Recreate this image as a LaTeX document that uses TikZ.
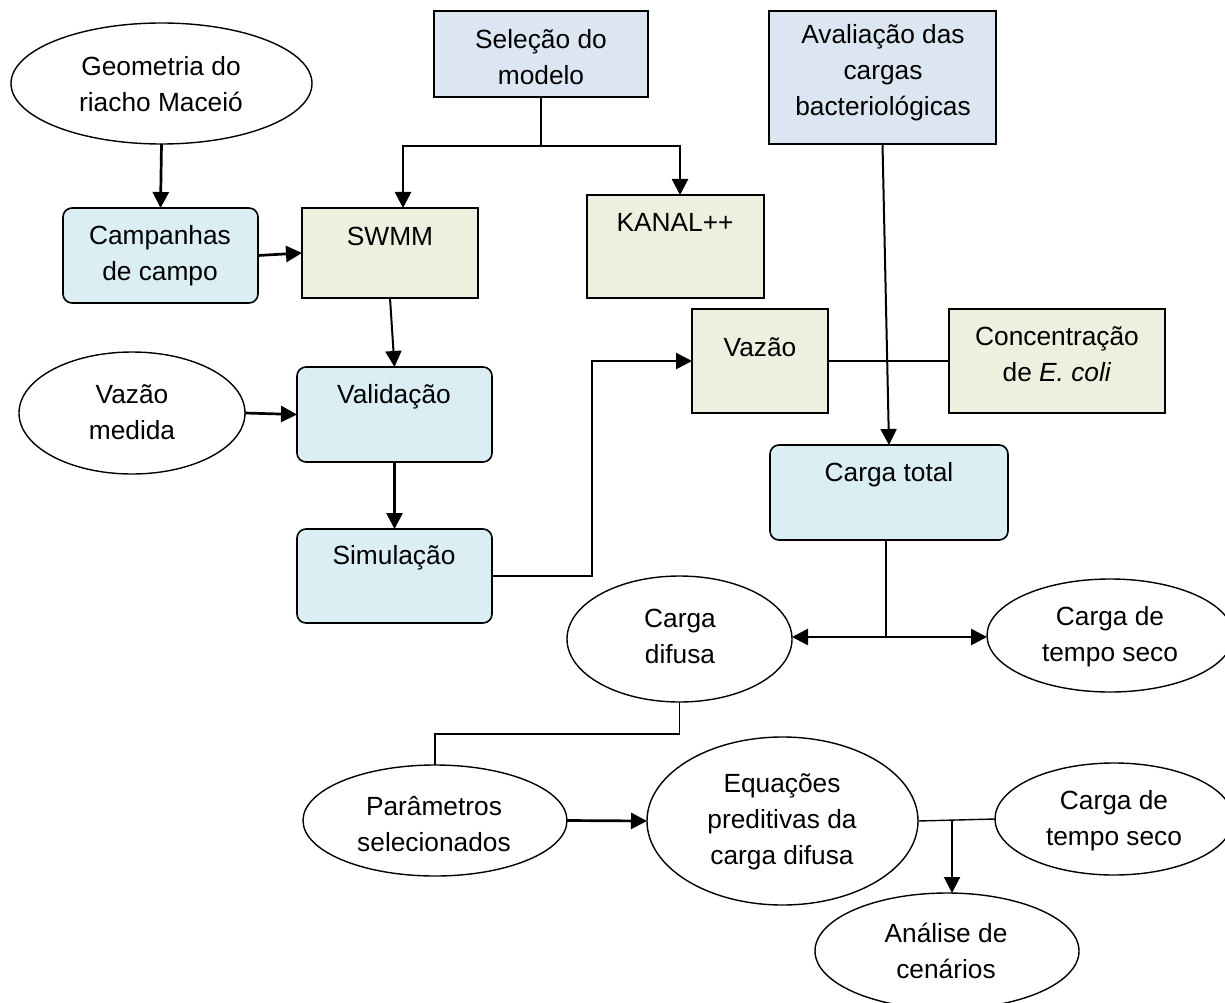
\documentclass[tikz,border=0pt]{standalone}
\usepackage{fontspec}
\setmainfont{Liberation Sans}
\usetikzlibrary{shapes.geometric,arrows.meta}
\definecolor{bluegray}{HTML}{DCE6F2}
\definecolor{lightcyan}{HTML}{DBEEF4}
\definecolor{lightgreen}{HTML}{EBF1DE}
\begin{document}
\begin{tikzpicture}[x=1pt,y=-1pt,
  every node/.style={inner sep=0pt, outer sep=0pt},
  txt/.style={align=center, font=\fontsize{26.3}{36}\selectfont},
  sqbox/.style={draw, line width=1.6pt, rectangle},
  selbox/.style={sqbox, fill=bluegray},
  grbox/.style={sqbox, fill=lightgreen},
  rbox/.style={draw, line width=1.6pt, rectangle, rounded corners=9pt, fill=lightcyan},
  oval/.style={draw, line width=1.4pt, ellipse},
  heavy/.style={line width=2.7pt},
  medium/.style={line width=2pt},
  light/.style={line width=1.4pt},
  arr/.style={-{Triangle[length=16pt,width=16pt]}}
]
\useasboundingbox (0,0) rectangle (1225,1003);

% shapes
\node[oval, minimum width=301pt, minimum height=121pt] (geo) at (161.5,83.5) {};
\node[selbox, minimum width=214pt, minimum height=86pt] (sel) at (541,54) {};
\node[selbox, minimum width=227pt, minimum height=133pt] (aval) at (882.5,77.5) {};
\node[rbox, minimum width=195pt, minimum height=95pt] (camp) at (160.5,255.5) {};
\node[grbox, minimum width=176pt, minimum height=90pt] (swmm) at (390,253) {};
\node[grbox, minimum width=177pt, minimum height=103pt] (kanal) at (675.5,246.5) {};
\node[oval, minimum width=226pt, minimum height=122pt] (vm) at (132,413) {};
\node[rbox, minimum width=195pt, minimum height=95pt] (valid) at (394.5,414.5) {};
\node[rbox, minimum width=195pt, minimum height=94pt] (sim) at (394.5,576) {};
\node[grbox, minimum width=136pt, minimum height=104pt] (vaz) at (760,361) {};
\node[grbox, minimum width=216pt, minimum height=104pt] (conc) at (1057,361) {};
\node[rbox, minimum width=238pt, minimum height=95pt] (ctot) at (889,492.5) {};
\node[oval, minimum width=225pt, minimum height=126pt] (cdif) at (679.5,639) {};
\node[oval, minimum width=246pt, minimum height=113pt] (cts1) at (1110,635.5) {};
\node[oval, minimum width=264pt, minimum height=111pt] (param) at (435,820.5) {};
\node[oval, minimum width=271pt, minimum height=168pt] (equ) at (782.5,821) {};
\node[oval, minimum width=238pt, minimum height=112pt] (cts2) at (1114,819) {};
\node[oval, minimum width=264pt, minimum height=116pt] (anal) at (947,951) {};

% texts
\node[txt] (geoT) at (161,84) {Geometria do\\riacho Maceió};
\node[txt] (selT) at (541,57) {Seleção do\\modelo};
\node[txt] (avalT) at (883,73) {Avaliação das\\cargas\\bacteriológicas};
\node[txt] (campT) at (160,256) {Campanhas\\de campo};
\node[txt] (swmmT) at (390,236) {SWMM};
\node[txt] (kanalT) at (675,222) {KANAL++};
\node[txt] (vmT) at (132,412) {Vazão\\medida};
\node[txt] (validT) at (394,397) {Validação};
\node[txt] (simT) at (394,558) {Simulação};
\node[txt] (vazT) at (760,347) {Vazão};
\node[txt] (concT) at (1057,354) {Concentração\\de \textit{E. coli}};
\node[txt] (ctT) at (889,475) {Carga total};
\node[txt] (cdT) at (680,636) {Carga\\difusa};
\node[txt] (cts1T) at (1110,637) {Carga de\\tempo seco};
\node[txt] (paramT) at (434,824) {Parâmetros\\selecionados};
\node[txt] (equT) at (782,822) {Equações\\preditivas da\\carga difusa};
\node[txt] (cts2T) at (1114,821) {Carga de\\tempo seco};
\node[txt] (anT) at (946,951) {Análise de\\cenários};

% junctions
\coordinate (j1) at (541,146);
\coordinate (j2) at (886,637);
\coordinate (j3) at (952,819.5);

% connectors
\draw[heavy,arr] (geo.south) -- (camp.north);
\draw[heavy,arr] (camp.east) -- (swmm.west);
\draw[light] (sel.south) -- (j1);
\draw[heavy,arr] (j1) -| ([xshift=13pt]swmm.north);
\draw[heavy,arr] (j1) -| ([xshift=4.5pt]kanal.north);
\draw[medium,arr] (swmm.south) -- (valid.north);
\draw[heavy,arr] (vm.east) -- (valid.west);
\draw[heavy,arr] (valid.south) -- (sim.north);
\draw[heavy,arr] (sim.east) -- ++(100,0) |- (vaz.west);
\draw[light] (vaz.east) -- (conc.west);
\draw[medium,arr] (aval.south) -- (ctot.north);
\draw[heavy] ([xshift=-50pt]ctot.south) -- ([xshift=-3pt]ctot.south);
\draw[heavy] ([xshift=-3pt]ctot.south) -- (j2);
\draw[heavy,arr] (j2) -- (cdif.east |- j2);
\draw[heavy,arr] (j2) -- (cts1.west |- j2);
\draw[light] (cdif.south) -- ++(0,32) -| (param.north);
\draw[heavy,arr] (param.east) -- (equ.west);
\draw[light] (equ.east) -- (cts2.west);
\draw[medium,arr] (j3) -- (j3 |- anal.north);
\end{tikzpicture}
\end{document}
